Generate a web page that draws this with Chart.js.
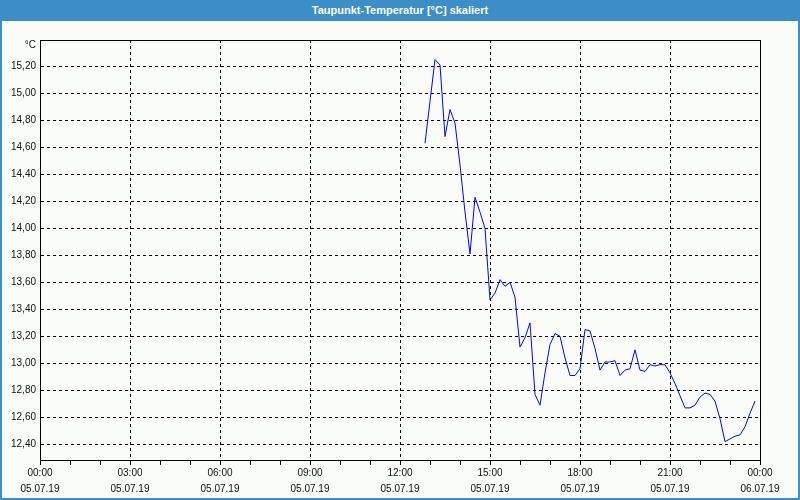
<!DOCTYPE html>
<html>
<head>
<meta charset="utf-8">
<script src="https://cdn.jsdelivr.net/npm/chart.js@4.4.1/dist/chart.umd.min.js"></script>
<style>
  body { margin: 0; background: #fafcfa; }
  #frame {
    position: absolute; left: 0; top: 0; width: 800px; height: 500px;
    box-sizing: border-box; border: 2px solid #3c8fc6; background: #fafcfa;
  }
  #head {
    position: absolute; left: 0; top: 0; width: 800px; height: 21px;
    background: #3c8fc6; color: #fff; text-align: center;
    font: bold 11px "Liberation Sans", Arial, sans-serif; line-height: 20px;
  }
  #chart { position: absolute; left: 0; top: 0; }
</style>
</head>
<body>
<div id="frame"></div>
<div id="head">Taupunkt-Temperatur [°C] skaliert</div>
<canvas id="chart" width="800" height="500"></canvas>
<script>
// measurement times (05.07.19, every 10 minutes)
const times = [
  "12:50", "13:00", "13:10", "13:20", "13:30", "13:40", "13:50",
  "14:00", "14:10", "14:20", "14:30", "14:40", "14:50",
  "15:00", "15:10", "15:20", "15:30", "15:40", "15:50",
  "16:00", "16:10", "16:20", "16:30", "16:40", "16:50",
  "17:00", "17:10", "17:20", "17:30", "17:40", "17:50",
  "18:00", "18:10", "18:20", "18:30", "18:40", "18:50",
  "19:00", "19:10", "19:20", "19:30", "19:40", "19:50",
  "20:00", "20:10", "20:20", "20:30", "20:40", "20:50",
  "21:00", "21:10", "21:20", "21:30", "21:40", "21:50",
  "22:00", "22:10", "22:20", "22:30", "22:40", "22:50",
  "23:00", "23:10", "23:20", "23:30", "23:40", "23:50",
];

// dew point in °C
const dewPoint = [
  14.63, 14.94, 15.25, 15.21, 14.68, 14.88, 14.78,
  14.47, 14.12, 13.81, 14.23, 14.12, 14.00,
  13.47, 13.52, 13.62, 13.57, 13.60, 13.49,
  13.12, 13.19, 13.30, 12.77, 12.69, 12.93,
  13.14, 13.22, 13.20, 13.04, 12.91, 12.91,
  12.96, 13.25, 13.24, 13.11, 12.95, 13.01,
  13.01, 13.02, 12.91, 12.95, 12.96, 13.10,
  12.95, 12.94, 12.99, 12.98, 12.99, 12.99,
  12.93, 12.85, 12.76, 12.67, 12.67, 12.69,
  12.75, 12.78, 12.77, 12.72, 12.59, 12.42,
  12.44, 12.46, 12.47, 12.53, 12.63, 12.72,
];

const yTicks = [12.4, 12.6, 12.8, 13.0, 13.2, 13.4, 13.6, 13.8, 14.0, 14.2, 14.4, 14.6, 14.8, 15.0, 15.2];
const hourTicks = [0, 1, 2, 3, 4, 5, 6, 7, 8, 9, 10, 11, 12, 13, 14, 15, 16, 17, 18, 19, 20, 21, 22, 23, 24];
const xTickTimes = ["00:00", "03:00", "06:00", "09:00", "12:00", "15:00", "18:00", "21:00", "00:00"];
const xTickDates = ["05.07.19", "05.07.19", "05.07.19", "05.07.19", "05.07.19", "05.07.19", "05.07.19", "05.07.19", "06.07.19"];

const toMinutes = (t) => {
  const p = t.split(":");
  return Number(p[0]) * 60 + Number(p[1]);
};

const points = times.map((t, i) => ({ x: toMinutes(t), y: dewPoint[i] }));

const font = { family: "'Liberation Sans', Arial, sans-serif", size: 10 };

// solid box round the plot plus the unit label
const plotFrame = {
  id: "plotFrame",
  afterDraw(chart) {
    const { ctx, chartArea: a } = chart;
    ctx.save();
    ctx.strokeStyle = "#000";
    ctx.lineWidth = 1;
    ctx.setLineDash([]);
    ctx.strokeRect(Math.round(a.left) + 0.5, Math.round(a.top) + 0.5,
      Math.round(a.right - a.left), Math.round(a.bottom - a.top));
    ctx.fillStyle = "#101010";
    ctx.font = "10px 'Liberation Sans', Arial, sans-serif";
    ctx.textAlign = "right";
    ctx.textBaseline = "middle";
    ctx.fillText("°C", 36, 45);
    ctx.restore();
  },
};

new Chart(document.getElementById("chart"), {
  type: "line",
  data: {
    datasets: [
      {
        data: points,
        borderColor: "#0000ff",
        borderWidth: 1,
        pointRadius: 0,
        tension: 0,
        fill: false,
      },
    ],
  },
  options: {
    responsive: false,
    animation: false,
    layout: { padding: { left: 0, top: 40, right: 40, bottom: 0 } },
    plugins: {
      legend: { display: false },
      tooltip: { enabled: false },
    },
    scales: {
      x: {
        type: "linear",
        min: 0,
        max: 1440,
        afterBuildTicks: (scale) => {
          scale.ticks = hourTicks.map((h) => ({ value: h * 60 }));
        },
        afterFit: (scale) => {
          scale.height = 40;
        },
        ticks: {
          autoSkip: false,
          maxRotation: 0,
          padding: 0,
          color: "#101010",
          font: { ...font, lineHeight: 1.6 },
          callback: (v) => {
            if (v % 180 !== 0) return "";
            const i = v / 180;
            return [xTickTimes[i], xTickDates[i]];
          },
        },
        grid: {
          color: (ctx) => (ctx.tick && ctx.tick.value % 180 === 0 ? "#000" : "rgba(0,0,0,0)"),
          lineWidth: 1,
          drawTicks: true,
          tickLength: 5,
          tickColor: "#000",
          tickBorderDash: [],
        },
        border: { display: true, color: "#000", width: 1, dash: [3, 3] },
      },
      y: {
        min: 12.284,
        max: 15.395,
        afterBuildTicks: (scale) => {
          scale.ticks = yTicks.map((v) => ({ value: v }));
        },
        afterFit: (scale) => {
          scale.width = 40;
        },
        ticks: {
          padding: 4,
          color: "#101010",
          font: font,
          callback: (v) => v.toFixed(2).replace(".", ","),
        },
        grid: {
          color: "#000",
          lineWidth: 1,
          drawTicks: false,
        },
        border: { display: true, color: "#000", width: 1, dash: [3, 3] },
      },
    },
  },
  plugins: [plotFrame],
});
</script>
</body>
</html>
